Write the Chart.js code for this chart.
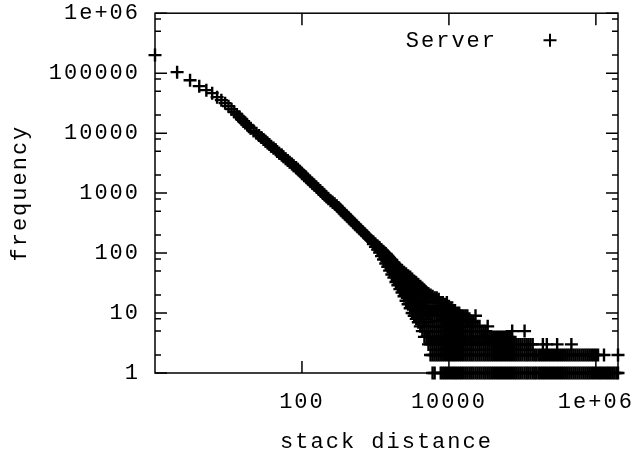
<!DOCTYPE html>
<html lang="en">
<head>
<meta charset="UTF-8">
<title>Stack distance frequency</title>
<script src="https://cdn.jsdelivr.net/npm/chart.js"></script>
<style>
  html, body { margin: 0; padding: 0; background: #fff; }
</style>
</head>
<body>
<canvas id="stackChart" width="636" height="454"></canvas>
<script>
// sampled stack distances (x) and the frequencies seen at each of them (y)
const stackDistance = [
  1, 2, 3, 4, 5, 6, 7, 8, 9, 10,
  11, 12, 13, 14, 15, 16, 17, 18, 19, 20,
  22, 24, 26, 28, 30, 32, 34, 36, 38, 41,
  44, 46, 49, 53, 56, 60, 64, 68, 73, 77,
  83, 88, 94, 100, 107, 114, 121, 129, 138, 147,
  157, 167, 178, 190, 202, 215, 229, 245, 261, 278,
  297, 316, 337, 359, 383, 408, 435, 464, 495, 527,
  562, 599, 638, 681, 726, 774, 825, 880, 938, 1000,
  1070, 1140, 1210, 1290, 1380, 1470, 1560, 1670, 1780, 1900,
  2020, 2150, 2300, 2450, 2610, 2780, 2970, 3160, 3370, 3590,
  3830, 4080, 4350, 4640, 4950, 5270, 5620, 5990, 6390, 6810,
  7260, 7740, 8250, 8800, 9380, 10000, 10700, 11400, 12100, 12900,
  13800, 14700, 15600, 16700, 17800, 19000, 20200, 21500, 23000, 24500,
  26100, 27800, 29700, 31600, 33700, 35900, 38300, 40800, 43500, 46400,
  49500, 52700, 56200, 59900, 63900, 68100, 72600, 77400, 82500, 88000,
  93800, 100000, 107000, 114000, 121000, 129000, 138000, 147000, 156000, 167000,
  178000, 190000, 202000, 215000, 230000, 245000, 261000, 278000, 297000, 316000,
  337000, 359000, 383000, 408000, 435000, 464000, 495000, 527000, 562000, 599000,
  639000, 681000, 726000, 774000, 825000, 880000, 938000, 1000000, 1070000, 1140000,
  1210000, 1290000, 1380000, 1470000, 1560000, 1670000, 1780000, 1900000, 2000000
];

const frequency = [
  [200000], [104000], [76400], [60700], [52100], [46400], [39800], [35500], [31600], [28200],
  [25100], [22500], [20400], [18700], [17200], [15800], [14700], [13700], [12800], [12100],
  [10900], [9960], [9160], [8450], [7850], [7330], [6870], [6460], [6050], [5650],
  [5280], [4930], [4600], [4300], [4020], [3750], [3500], [3280], [3060], [2860],
  [2670], [2490], [2310], [2120], [1970], [1830], [1700], [1580], [1460], [1360],
  [1260], [1170], [1090], [1010], [935], [868], [806], [748], [705], [664],
  [614], [568], [525], [486], [449], [415], [384], [355], [328], [303],
  [281], [259], [240], [222], [205], [190], [175], [162], [153, 141], [141, 127],
  [131, 114], [123, 102], [114, 89], [105, 78], [98, 67], [90, 74, 59], [83, 65, 51], [77, 58, 44], [70, 52, 39], [64, 48, 33],
  [58, 43, 29], [54, 40, 30, 25], [51, 37, 27, 22], [48, 34, 25, 19], [45, 33, 23, 16],
  [42, 30, 21, 14], [40, 28, 19, 12], [37, 26, 18, 13, 10], [34, 24, 17, 12, 9], [32, 22, 16, 11, 8],
  [30, 21, 15, 10, 7], [28, 20, 14, 10, 6], [26, 18, 13, 9, 7, 5], [24, 17, 12, 8, 6, 4], [22, 16, 11, 8, 5, 4],
  [21, 15, 10, 7, 5, 4, 3], [20, 13, 9, 6, 4, 3, 2], [19, 13, 9, 6, 4, 3, 2, 1], [18, 13, 9, 6, 4, 3, 2, 1], [18, 12, 9, 6, 4, 3, 2],
  [17, 13, 9, 6, 4, 3, 2], [15, 12, 9, 6, 4, 3, 2, 1], [15, 11, 8, 6, 4, 3, 2, 1], [14, 12, 9, 6, 4, 3, 2, 1], [15, 13, 9, 6, 4, 3, 2, 1],
  [13, 9, 6, 4, 3, 2, 1], [12, 9, 6, 4, 3, 2, 1], [11, 8, 6, 4, 3, 2, 1], [11, 9, 6, 4, 3, 2, 1], [10, 8, 6, 4, 3, 2, 1],
  [10, 7, 5, 4, 3, 2, 1], [9, 6, 4, 3, 2, 1], [9, 7, 5, 4, 3, 2, 1], [9, 6, 4, 3, 2, 1], [9, 8, 6, 4, 3, 2, 1],
  [8, 6, 4, 3, 2, 1], [7, 5, 4, 3, 2, 1], [7, 6, 4, 3, 2, 1], [9, 6, 4, 3, 2, 1], [6, 4, 3, 2, 1],
  [6, 4, 3, 2, 1], [5, 4, 3, 2, 1], [5, 4, 3, 2, 1], [5, 4, 3, 2, 1], [6, 4, 3, 2, 1],
  [4, 3, 2, 1], [4, 3, 2, 1], [4, 3, 2, 1], [4, 3, 2, 1], [4, 3, 2, 1],
  [4, 3, 2, 1], [4, 3, 2, 1], [4, 3, 2, 1], [4, 3, 2, 1], [4, 3, 2, 1],
  [4, 3, 2, 1], [5, 3, 2, 1], [3, 2, 1], [3, 2, 1], [3, 2, 1],
  [3, 2, 1], [3, 2, 1], [5, 3, 2, 1], [3, 2, 1], [3, 2, 1],
  [3, 2, 1], [3, 2, 1], [2, 1], [2, 1], [2, 1],
  [2, 1], [3, 2, 1], [2, 1], [3, 2, 1], [2, 1],
  [2, 1], [2, 1], [2, 1], [3, 2, 1], [2, 1],
  [2, 1], [2, 1], [2, 1], [2, 1], [2, 1],
  [3, 2, 1], [2, 1], [2, 1], [2, 1], [2, 1],
  [2, 1], [2, 1], [2, 1], [2, 1], [2, 1],
  [2, 1], [2, 1], [2, 1], [2, 1], [1],
  [1], [2, 1], [1], [1], [1],
  [1], [1], [1], [2, 1]
];

const xTicks = [100, 10000, 1000000];
const yTicks = [1, 10, 100, 1000, 10000, 100000, 1000000];
const yMinorTicks = [2, 5, 8, 20, 50, 80, 200, 500, 800, 2000, 5000, 8000,
  20000, 50000, 80000, 200000, 500000, 800000];

const points = [];
stackDistance.forEach((d, i) => {
  frequency[i].forEach(f => points.push({ x: d, y: f }));
});

const MONO = "'Liberation Mono', 'DejaVu Sans Mono', monospace";
const SPACING = '2px';

// gnuplot style numbers: plain up to 100000, then 1e+06
function tickLabel(v) {
  if (v < 1e6) return String(v);
  const exp = Math.round(Math.log10(v));
  return '1e+' + String(exp).padStart(2, '0');
}

// invisible tick marks only push the labels away from the frame
function hiddenTicks(len) {
  return { display: true, drawOnChartArea: false, drawTicks: true, tickLength: len, color: 'rgba(0,0,0,0)' };
}

const gnuplotFrame = {
  id: 'gnuplotFrame',
  beforeUpdate(chart) { chart.ctx.letterSpacing = SPACING; },
  beforeDraw(chart) { chart.ctx.letterSpacing = SPACING; },
  beforeDatasetsDraw(chart) {
    const { ctx, chartArea: a, scales: { x, y } } = chart;
    ctx.save();
    ctx.strokeStyle = '#000';
    ctx.lineWidth = 1.5;
    ctx.strokeRect(a.left, a.top, a.right - a.left, a.bottom - a.top);
    ctx.beginPath();
    xTicks.forEach(v => {
      const px = x.getPixelForValue(v);
      ctx.moveTo(px, a.bottom); ctx.lineTo(px, a.bottom - 12);
      ctx.moveTo(px, a.top); ctx.lineTo(px, a.top + 12);
    });
    yTicks.forEach(v => {
      const py = y.getPixelForValue(v);
      ctx.moveTo(a.left, py); ctx.lineTo(a.left + 12, py);
      ctx.moveTo(a.right, py); ctx.lineTo(a.right - 12, py);
    });
    yMinorTicks.forEach(v => {
      const py = y.getPixelForValue(v);
      ctx.moveTo(a.left, py); ctx.lineTo(a.left + 6, py);
      ctx.moveTo(a.right, py); ctx.lineTo(a.right - 6, py);
    });
    ctx.stroke();
    ctx.restore();
  },
  afterDatasetsDraw(chart) {
    // key in the top right corner: label, then the point sample
    const { ctx, chartArea: a } = chart;
    const ds = chart.data.datasets[0];
    const ky = a.top + 28;
    ctx.save();
    ctx.letterSpacing = SPACING;
    ctx.font = '22px ' + MONO;
    ctx.fillStyle = '#000';
    ctx.textAlign = 'right';
    ctx.textBaseline = 'middle';
    ctx.fillText(ds.label, a.right - 121, ky);
    const cx = a.right - 68, r = ds.pointRadius;
    ctx.strokeStyle = '#000';
    ctx.lineWidth = 2;
    ctx.beginPath();
    ctx.moveTo(cx - r, ky - 1); ctx.lineTo(cx + r, ky - 1);
    ctx.moveTo(cx, ky - 1 - r); ctx.lineTo(cx, ky - 1 + r);
    ctx.stroke();
    ctx.restore();
  }
};

new Chart(document.getElementById('stackChart'), {
  type: 'scatter',
  data: {
    datasets: [{
      label: 'Server',
      data: points,
      pointStyle: 'cross',
      pointRadius: 6.5,
      pointBorderWidth: 2.4,
      pointBorderColor: '#000',
      pointBackgroundColor: '#000',
      clip: false
    }]
  },
  options: {
    responsive: false,
    animation: false,
    events: [],
    layout: { padding: { top: 13, right: 18, left: 0, bottom: 0 } },
    plugins: {
      legend: { display: false },
      tooltip: { enabled: false }
    },
    scales: {
      x: {
        type: 'logarithmic',
        min: 1,
        max: 2000000,
        afterBuildTicks: s => { s.ticks = xTicks.map(v => ({ value: v })); },
        afterFit: s => { s.height = 81; },
        grid: hiddenTicks(16),
        border: { display: false },
        ticks: {
          font: { family: MONO, size: 22 },
          color: '#000',
          padding: 0,
          maxRotation: 0,
          autoSkip: false,
          callback: v => tickLabel(v)
        },
        title: {
          display: true,
          text: 'stack distance',
          color: '#000',
          font: { family: MONO, size: 22, lineHeight: 1 },
          padding: { top: 0, bottom: 1 }
        }
      },
      y: {
        type: 'logarithmic',
        min: 1,
        max: 1000000,
        afterBuildTicks: s => { s.ticks = yTicks.map(v => ({ value: v })); },
        afterFit: s => { s.width = 155; },
        grid: hiddenTicks(15),
        border: { display: false },
        ticks: {
          font: { family: MONO, size: 22 },
          color: '#000',
          padding: 0,
          autoSkip: false,
          callback: v => tickLabel(v)
        },
        title: {
          display: true,
          text: 'frequency',
          color: '#000',
          font: { family: MONO, size: 22, lineHeight: 1 },
          padding: { top: 9, bottom: 0 }
        }
      }
    }
  },
  plugins: [gnuplotFrame]
});
</script>
</body>
</html>
